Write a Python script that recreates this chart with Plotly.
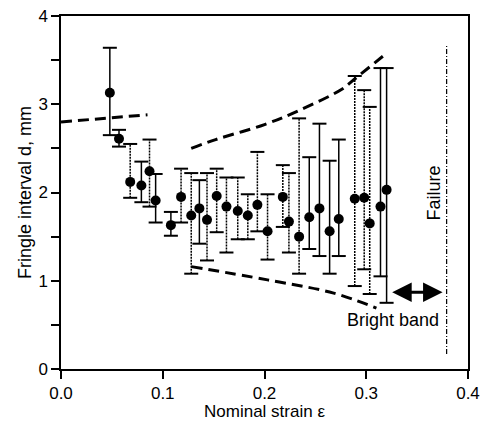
import plotly.graph_objects as go

# ---- data ----
strain = [0.048, 0.057, 0.068, 0.079, 0.087, 0.093, 0.108, 0.118, 0.128, 0.136,
          0.1435, 0.153, 0.1626, 0.1737, 0.1836, 0.193, 0.203, 0.218, 0.224, 0.234,
          0.244, 0.254, 0.264, 0.273, 0.2887, 0.298, 0.3034, 0.314, 0.320]
d_mean = [3.13, 2.61, 2.12, 2.08, 2.24, 1.91, 1.63, 1.95, 1.74, 1.82,
          1.69, 1.96, 1.84, 1.79, 1.74, 1.86, 1.56, 1.95, 1.67, 1.50,
          1.72, 1.82, 1.56, 1.70, 1.93, 1.94, 1.65, 1.84, 2.03]
d_hi = [3.64, 2.71, 2.55, 2.35, 2.60, 2.21, 1.78, 2.27, 2.22, 2.14,
        2.22, 2.27, 2.17, 2.17, 1.98, 2.46, 1.98, 2.31, 2.22, 2.84,
        2.40, 2.78, 2.36, 2.60, 3.32, 3.16, 2.97, 3.41, 3.41]
d_lo = [2.65, 2.52, 1.94, 1.89, 1.84, 1.66, 1.51, 1.66, 1.08, 1.42,
        1.23, 1.55, 1.32, 1.47, 1.47, 1.56, 1.24, 1.61, 1.32, 1.08,
        1.36, 1.28, 1.08, 1.28, 0.94, 1.13, 0.85, 1.05, 0.75]
dotted = [False, False, True, False, True, False, False, True, True, False,
          True, True, True, True, True, True, True, True, True, True,
          False, False, False, False, True, True, True, False, False]

left_x = [0.0, 0.085]
left_y = [2.80, 2.88]
upper_x = [0.128, 0.152, 0.200, 0.234, 0.276, 0.288, 0.318]
upper_y = [2.50, 2.60, 2.77, 2.93, 3.17, 3.28, 3.56]
lower_x = [0.128, 0.203, 0.268, 0.310]
lower_y = [1.16, 1.01, 0.86, 0.69]

failure_x = 0.379
failure_y = [0.17, 3.66]
arrow_x = [0.324, 0.375]
arrow_y = 0.87
failure_label_pos = (0.3665, 2.0)
band_label_pos = (0.326, 0.55)

FONT = "Liberation Sans, Arial, sans-serif"

fig = go.Figure()

# error bar stems
for style in (False, True):
    xs, ys = [], []
    for x, lo, hi, dt in zip(strain, d_lo, d_hi, dotted):
        if dt == style:
            xs += [x, x, None]
            ys += [lo, hi, None]
    fig.add_trace(go.Scatter(
        x=xs, y=ys, mode="lines",
        line=dict(color="black", width=1.5, dash="2px,1px" if style else "solid"),
        hoverinfo="skip", showlegend=False))

# caps
fig.add_trace(go.Scatter(
    x=strain + strain, y=d_hi + d_lo, mode="markers",
    marker=dict(symbol="line-ew", size=10, line=dict(color="black", width=2)),
    hoverinfo="skip", showlegend=False))

# dashed envelope curves
for xs, ys, shp in ((left_x, left_y, "linear"), (upper_x, upper_y, "spline"),
                    (lower_x, lower_y, "spline")):
    fig.add_trace(go.Scatter(
        x=xs, y=ys, mode="lines",
        line=dict(color="black", width=3, dash="11px,6px", shape=shp),
        hoverinfo="skip", showlegend=False))

# failure line
fig.add_trace(go.Scatter(
    x=[failure_x, failure_x], y=failure_y, mode="lines",
    line=dict(color="black", width=1.2, dash="5px,2px,1px,2px"),
    hoverinfo="skip", showlegend=False))

# points
fig.add_trace(go.Scatter(
    x=strain, y=d_mean, mode="markers",
    marker=dict(symbol="circle", size=10, color="black"),
    showlegend=False))

# double arrow
fig.add_annotation(x=arrow_x[1], y=arrow_y, ax=arrow_x[0], ay=arrow_y,
                   xref="x", yref="y", axref="x", ayref="y",
                   showarrow=True, arrowhead=2, startarrowhead=2,
                   arrowside="end+start", arrowwidth=3, arrowsize=1.3,
                   startarrowsize=1.3, arrowcolor="black", text="")
fig.add_annotation(x=band_label_pos[0], y=band_label_pos[1], text="Bright band",
                   showarrow=False, font=dict(family=FONT, size=18, color="black"))
fig.add_annotation(x=failure_label_pos[0], y=failure_label_pos[1], text="Failure",
                   textangle=-90, showarrow=False,
                   font=dict(family=FONT, size=18, color="black"))

# the page body adds an 8px offset, so the figure is sized to fit inside it
fig.update_layout(
    width=480, height=413,
    margin=dict(l=53, r=20, t=8, b=52, autoexpand=False),
    plot_bgcolor="white", paper_bgcolor="white",
    font=dict(family=FONT, size=17, color="black"),
)
fig.update_xaxes(
    range=[0, 0.4], tickvals=[0, 0.1, 0.2, 0.3, 0.4],
    ticktext=["0.0", "0.1", "0.2", "0.3", "0.4"],
    ticks="outside", ticklen=8, tickwidth=1.5, tickcolor="black",
    showline=True, linecolor="black", linewidth=1.5, mirror=True,
    showgrid=False, zeroline=False, automargin=False,
    ticklabeloverflow="allow",
    tickfont=dict(size=17),
    title=dict(text="Nominal strain ε", standoff=2, font=dict(size=17)),
)
fig.update_yaxes(
    range=[0, 4], tickvals=[0, 1, 2, 3, 4],
    ticks="outside", ticklen=8, tickwidth=1.5, tickcolor="black",
    minor=dict(tickvals=[0.5, 1.5, 2.5, 3.5], ticks="outside", ticklen=8,
               tickwidth=1.5, tickcolor="black"),
    showline=True, linecolor="black", linewidth=1.5, mirror=True,
    showgrid=False, zeroline=False, automargin=False,
    ticklabeloverflow="allow",
    tickfont=dict(size=17),
    title=dict(text="Fringle interval d, mm", standoff=2, font=dict(size=18)),
)

fig.write_html("out.html")
